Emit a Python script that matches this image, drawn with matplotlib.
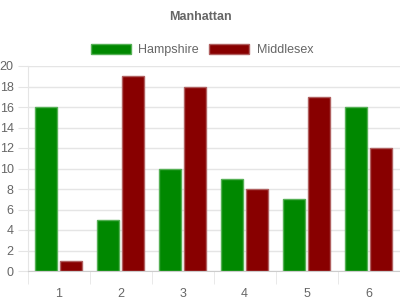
import matplotlib
matplotlib.use("Agg")
import matplotlib.pyplot as plt
from matplotlib.patches import Patch
import numpy as np

plt.rcParams['font.family'] = ['Liberation Sans', 'DejaVu Sans']

categories = ["1", "2", "3", "4", "5", "6"]
hampshire = [16, 5, 10, 9, 7, 16]
middlesex = [1, 19, 18, 8, 17, 12]
series_names = ["Hampshire", "Middlesex"]

green = "#008800"
green_edge = "#55b055"
red = "#880000"
red_edge = "#b06060"
text_col = "#666666"
grid_col = "#e5e5e5"

fig = plt.figure(figsize=(4, 3), dpi=100)
ax = fig.add_axes([27.5 / 400, 29 / 300, 372 / 400, 205 / 300])

x = np.arange(len(categories))
w = 0.355
off = 0.205
ax.bar(x - off, hampshire, w, color=green, edgecolor=green_edge, linewidth=1)
ax.bar(x + off, middlesex, w, color=red, edgecolor=red_edge, linewidth=1)

ax.set_xlim(-0.5, len(categories) - 0.5)
ax.set_ylim(0, 20)
ax.set_yticks(range(0, 21, 2))
ax.set_xticks(x)
ax.set_xticklabels(categories)
ax.set_xticks(np.arange(-0.5, len(categories)), minor=True)

ax.yaxis.grid(True, color=grid_col, linewidth=1)
ax.set_axisbelow(True)
for s in ["top", "right"]:
    ax.spines[s].set_visible(False)
ax.spines["left"].set_color(grid_col)
ax.spines["bottom"].set_color("#cccccc")

ax.tick_params(axis="y", length=7, color=grid_col, labelcolor=text_col, labelsize=9, pad=3)
ax.tick_params(axis="x", which="major", length=0, labelcolor=text_col, labelsize=9, pad=12)
ax.tick_params(axis="x", which="minor", length=9, color=grid_col)

fig.text(0.5, 1 - 17 / 300, "Manhattan", ha="center", va="center",
         fontsize=9, fontweight="bold", color=text_col)

handles = [Patch(facecolor=green, edgecolor=green_edge),
           Patch(facecolor=red, edgecolor=red_edge)]
leg = fig.legend(handles, series_names, loc="center", bbox_to_anchor=(0.505, 1 - 50 / 300),
                 ncol=2, frameon=False, fontsize=9, handlelength=3.2, handleheight=0.95,
                 handletextpad=0.6, columnspacing=0.8)
for t in leg.get_texts():
    t.set_color(text_col)

fig.savefig("out.png", dpi=100)
